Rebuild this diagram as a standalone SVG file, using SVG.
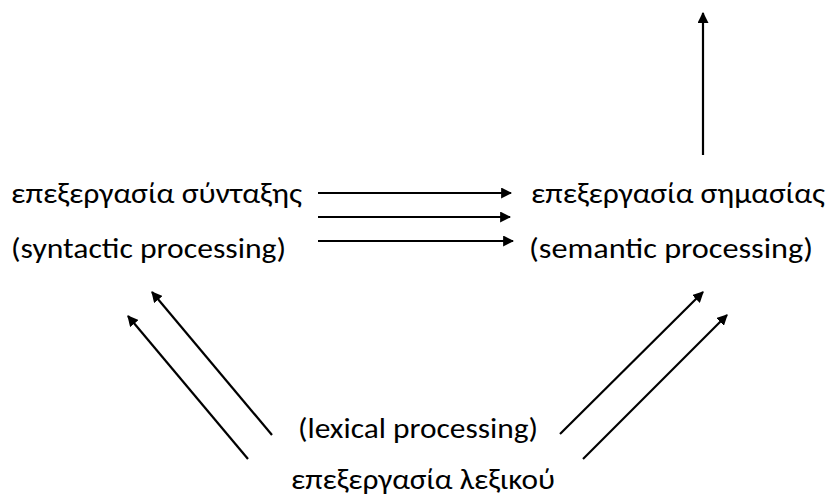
<svg xmlns="http://www.w3.org/2000/svg" width="833" height="497" viewBox="0 0 833 497">
  <style>
    .lbl { font-family: Carlito, "Noto Sans", "Liberation Sans", sans-serif; font-size: 28px; fill: #000; }
    .edge { stroke: #000; stroke-width: 2.2; fill: none; marker-end: url(#arrow); }
  </style>
  <defs>
    <marker id="arrow" viewBox="0 0 10 10" refX="9" refY="5" markerWidth="5" markerHeight="5" orient="auto" markerUnits="strokeWidth">
      <path d="M0,0 L10,5 L0,10 z" fill="#000"/>
    </marker>
  </defs>
  <rect width="833" height="497" fill="#fff"/>

  <g id="syntactic">
    <text class="lbl" x="11" y="203" textLength="291" lengthAdjust="spacingAndGlyphs">επεξεργασία σύνταξης</text>
    <text class="lbl" x="11" y="258" textLength="275" lengthAdjust="spacingAndGlyphs">(syntactic processing)</text>
  </g>
  <g id="semantic">
    <text class="lbl" x="531" y="203" textLength="294" lengthAdjust="spacingAndGlyphs">επεξεργασία σημασίας</text>
    <text class="lbl" x="529" y="258" textLength="284" lengthAdjust="spacingAndGlyphs">(semantic processing)</text>
  </g>
  <g id="lexical">
    <text class="lbl" x="298" y="438" textLength="240" lengthAdjust="spacingAndGlyphs">(lexical processing)</text>
    <text class="lbl" x="291" y="489" textLength="264" lengthAdjust="spacingAndGlyphs">επεξεργασία λεξικού</text>
  </g>

  <g id="connectors">
    <line class="edge" x1="318" y1="193" x2="511" y2="193"/>
    <line class="edge" x1="318" y1="217" x2="510" y2="217"/>
    <line class="edge" x1="318" y1="241" x2="513" y2="241"/>
    <line class="edge" x1="703" y1="155" x2="703" y2="13"/>
    <line class="edge" x1="248" y1="459" x2="128" y2="316"/>
    <line class="edge" x1="272" y1="435" x2="152" y2="292"/>
    <line class="edge" x1="560" y1="434" x2="703" y2="292"/>
    <line class="edge" x1="583" y1="459" x2="727" y2="315"/>
  </g>
</svg>
